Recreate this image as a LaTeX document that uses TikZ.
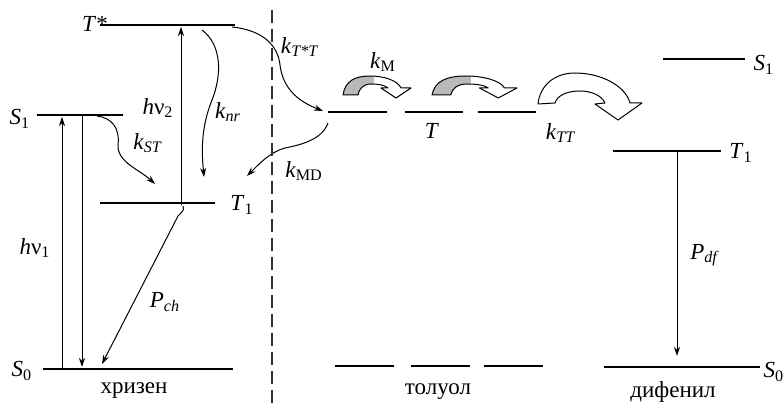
\documentclass[tikz,border=0pt]{standalone}
\usepackage{fontspec}
\setmainfont{Liberation Serif}
\usetikzlibrary{arrows.meta}

% letter with subscript, as in the labels
\newcommand{\withsub}[2]{\textit{#1}\textsubscript{#2}}
% outline of the small hopping arrow (local units, y down)
\newcommand{\hopshape}{(0,0) .. controls (2,-14) and (12,-19) .. (27,-19)
    .. controls (42,-19) and (55,-14) .. (58,-7) -- (68,-7) -- (53,3) -- (38,-7) -- (45,-7)
    .. controls (42,-10) and (35,-11) .. (28,-11) .. controls (20,-11) and (16,-6) .. (15,0) -- cycle}

\begin{document}
\begin{tikzpicture}[
    x=0.5pt, y=-0.5pt,
    >={Stealth[length=4.5pt,width=3pt]},
    every node/.style={font=\fontsize{11.5}{13}\selectfont, inner sep=0pt},
    level/.style={draw=black, line width=0.8pt},
    trans/.style={draw=black, line width=0.5pt, ->},
    divider/.style={draw=black!80, line width=0.6pt, dash pattern=on 6.5pt off 3pt},
    block arrow/.style={draw=black, line width=0.5pt, line join=round},
    pics/hop arrow/.style={code={
        \fill[white] \hopshape;
        \begin{scope}
            \clip (-3,-25) rectangle (31,5);
            \fill[gray!55] \hopshape;
        \end{scope}
        \draw[block arrow] \hopshape;
    }}
]
\useasboundingbox (0,0) rectangle (784,405);

% ---- хризен: уровни ----
\coordinate (TsL) at (100,25);  \coordinate (TsR) at (235,25);
\coordinate (S1L) at (37,115);  \coordinate (S1R) at (123,115);
\coordinate (T1L) at (100,203); \coordinate (T1R) at (215,203);
\coordinate (S0L) at (43,369);  \coordinate (S0R) at (233,369);
\draw[level] (TsL) -- (TsR);
\draw[level] (S1L) -- (S1R);
\draw[level] (T1L) -- (T1R);
\draw[level] (S0L) -- (S0R);
\node (lTs) at (95,24) {\textit{T}*};
\node (lS1) at (20,119) {\withsub{S}{1}};
\node (lT1) at (242,205) {\withsub{T}{1}};
\node (lS0) at (22,371) {\withsub{S}{0}};
\node (chr) at (134,391) {хризен};

% ---- хризен: переходы ----
\coordinate (nu1a) at (62,369);  \coordinate (nu1b) at (62,117);
\coordinate (fla) at (82,115);   \coordinate (flb) at (82,367);
\coordinate (nu2a) at (181,205); \coordinate (nu2b) at (181,27);
\coordinate (pcha) at (183,206); \coordinate (pchb) at (102,364);
\draw[trans] (nu1a) -- (nu1b);
\draw[trans] (fla) -- (flb);
\draw[trans] (nu2a) -- (nu2b);
\draw[trans] (pcha) .. controls (184,210) .. (178,216) -- (pchb);
\node (lnu1) at (35,248) {\textit{h}ν\textsubscript{1}};
\node (lnu2) at (158,108) {\textit{h}ν\textsubscript{2}};
\node (lpch) at (165,302) {\withsub{P}{\textit{ch}}};

% ---- безызлучательные переходы (волнистые) ----
\coordinate (nra) at (202,30);  \coordinate (nrb) at (204,177);
\coordinate (sta) at (97,116);  \coordinate (stb) at (155,184);
\coordinate (tta) at (232,27);  \coordinate (ttb) at (323,111);
\coordinate (mda) at (328,123); \coordinate (mdb) at (247,176);
\draw[trans] (nra) .. controls (222,45) and (222,75) .. (212,100)
    .. controls (200,130) and (202,155) .. (nrb);
\draw[trans] (sta) .. controls (112,118) and (120,128) .. (118,145)
    .. controls (117,162) and (140,170) .. (stb);
\draw[trans] (tta) .. controls (262,30) and (278,45) .. (280,65)
    .. controls (283,90) and (300,102) .. (ttb);
\draw[trans] (mda) .. controls (322,140) and (300,145) .. (285,148)
    .. controls (270,152) and (258,165) .. (mdb);
\node (lnr) at (228,112) {\withsub{k}{\textit{nr}}};
\node (lst) at (148,143) {\withsub{k}{\textit{ST}}};
\node (ltt) at (300,47) {\withsub{k}{\textit{T*T}}};
\node (lmd) at (304,171) {\withsub{k}{MD}};

% ---- граница ----
\coordinate (divtop) at (272,10); \coordinate (divbot) at (272,405);
\draw[divider] (divtop) -- (divbot);

% ---- толуол ----
\foreach \xa/\xb in {328/387, 405/463, 478/536}
    \draw[level] (\xa,112) -- (\xb,112);
\foreach \xa/\xb in {335/394, 411/470, 484/543}
    \draw[level] (\xa,366) -- (\xb,366);
\node (lT) at (432,131) {\textit{T}};
\node (tol) at (438,392) {толуол};
\pic at (343,95) {hop arrow};
\pic[xscale=1.25] at (432,95) {hop arrow};
\node (lkm) at (383,62) {\withsub{k}{M}};

% ---- перенос на дифенил ----
\draw[block arrow, fill=white] (538,104) .. controls (540,85) and (555,73) .. (575,73)
    .. controls (600,73) and (625,85) .. (630,103) -- (642,103) -- (618,120) -- (595,104)
    -- (605,103) .. controls (602,96) and (592,91) .. (580,91)
    .. controls (566,91) and (557,96) .. (555,103) -- cycle;
\node (lktt) at (561,133) {\withsub{k}{\textit{TT}}};

% ---- дифенил ----
\coordinate (dS1L) at (663,59);  \coordinate (dS1R) at (745,59);
\coordinate (dT1L) at (613,151); \coordinate (dT1R) at (721,151);
\coordinate (dS0L) at (604,367); \coordinate (dS0R) at (760,367);
\draw[level] (dS1L) -- (dS1R);
\draw[level] (dT1L) -- (dT1R);
\draw[level] (dS0L) -- (dS0R);
\node (ldS1) at (764,65) {\withsub{S}{1}};
\node (ldT1) at (741,153) {\withsub{T}{1}};
\node (ldS0) at (774,372) {\withsub{S}{0}};
\node (dif) at (673,392) {дифенил};
\coordinate (pdfa) at (677,151); \coordinate (pdfb) at (677,356);
\draw[trans] (pdfa) -- (pdfb);
\node (lpdf) at (705,255) {\withsub{P}{\textit{df}}};

\end{tikzpicture}
\end{document}
